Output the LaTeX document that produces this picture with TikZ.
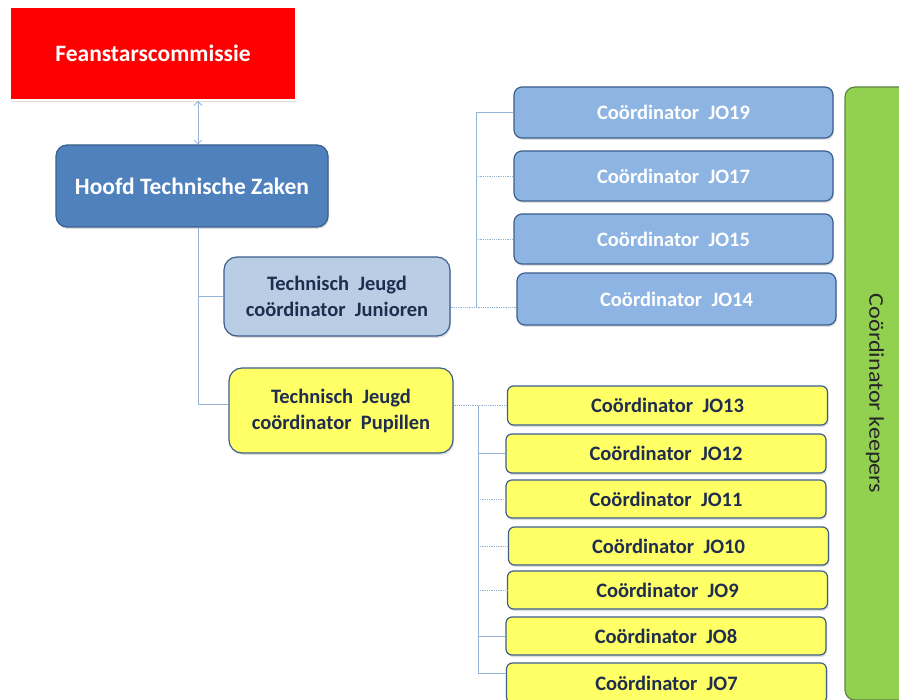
\documentclass[tikz,border=0pt]{standalone}
\usepackage{fontspec}
\setmainfont{Carlito}
\usetikzlibrary{shadows,arrows.meta}
\definecolor{hoofdblue}{HTML}{4F81BD}
\definecolor{darkrim}{HTML}{3C5F8C}
\definecolor{paleblue}{HTML}{B9CDE5}
\definecolor{jblue}{HTML}{8DB4E2}
\definecolor{pyellow}{HTML}{FFFF66}
\definecolor{kgreen}{HTML}{92D050}
\definecolor{kgreenrim}{HTML}{5F8444}
\definecolor{linkblue}{HTML}{95B3D7}
\definecolor{navytext}{HTML}{1F2D4F}
\tikzset{
  box/.style={rounded corners=8pt,draw=darkrim,line width=1.2pt,align=center,inner sep=0pt,
    font=\bfseries\fontsize{20.5}{26}\selectfont,
    drop shadow={opacity=.25,shadow xshift=1pt,shadow yshift=-2pt}},
  link/.style={linkblue,line width=.8pt},
  dotlink/.style={link,densely dotted},
}
\begin{document}
\begin{tikzpicture}[x=1pt,y=-1pt]
\useasboundingbox (0,0) rectangle (899,700);
\node[box,rounded corners=0pt,fill=red,draw=white,line width=2pt,text=white,minimum width=286pt,minimum height=93pt,
  font=\bfseries\fontsize{23.5}{28}\selectfont] (fean) at (153,53.5) {Feanstarscommissie};
\node[box,fill=hoofdblue,text=white,minimum width=272pt,minimum height=82pt,rounded corners=11pt,
  font=\bfseries\fontsize{23.5}{28}\selectfont] (hoofd) at (192,186) {Hoofd Technische Zaken};
\node[box,fill=paleblue,text=navytext,minimum width=226pt,minimum height=79pt,rounded corners=13pt] (jun) at (337,296.5)
  {Technisch~ Jeugd\\coördinator~ Junioren};
\node[box,fill=pyellow,text=navytext,minimum width=224pt,minimum height=85pt,rounded corners=13pt] (pup) at (341,410.5)
  {Technisch~ Jeugd\\coördinator~ Pupillen};
\foreach \n/\x/\y/\h in {19/673.5/112.5/51, 17/673.5/176/50, 15/673.5/239/50, 14/676.5/299/52}
  \node[box,fill=jblue,text=white,minimum width=319pt,minimum height=\h pt] (jo\n) at (\x,\y) {Coördinator~ JO\n};
\foreach \n/\x/\y/\h in {13/667.5/405.5/39, 12/666/453.5/39, 11/666/499/38, 10/668.5/546/38, 9/667.5/590/38, 8/666/636/38, 7/666.5/683/40}
  \node[box,fill=pyellow,text=navytext,minimum width=320pt,minimum height=\h pt,rounded corners=6pt] (jo\n) at (\x,\y) {Coördinator~ JO\n};
\node[box,fill=kgreen,draw=kgreenrim,minimum width=64pt,minimum height=613pt,rounded corners=10pt] (keep) at (877,393.5) {};
\node[rotate=-90,text=black!85,font=\fontsize{21}{25}\selectfont] (keeplabel) at ([xshift=-2pt]keep.center)
  {\scalebox{1.15}[1]{Coördinator keepers}};
\draw[link,{Straight Barb[length=4pt,width=8pt]}-{Straight Barb[length=4pt,width=8pt]}]
  ([xshift=45pt]fean.south) -- ([xshift=6pt]hoofd.north);
\draw[link] ([xshift=6pt]hoofd.south) |- (jun.west);
\draw[link] ([xshift=6pt]hoofd.south) |- ([yshift=6pt]pup.west);
\coordinate (jt) at (476,307);
\draw[dotlink] (jun.east |- jt) -- (jo14.west |- jt);
\draw[link] (jt) -- (jt |- jo19.west) -- (jo19.west);
\foreach \n in {17,15}
  \draw[dotlink] (jt |- jo\n.west) -- (jo\n.west);
\coordinate (pt) at (478,673);
\draw[dotlink] (pup.east |- jo13.west) -- (jo13.west);
\draw[link] (pt |- jo13.west) -- (pt) -- (pt -| jo7.west);
\foreach \n in {11,10,9}
  \draw[dotlink] (pt |- jo\n.west) -- (jo\n.west);
\foreach \n in {12,8}
  \draw[link] (pt |- jo\n.west) -- (jo\n.west);
\end{tikzpicture}
\end{document}
